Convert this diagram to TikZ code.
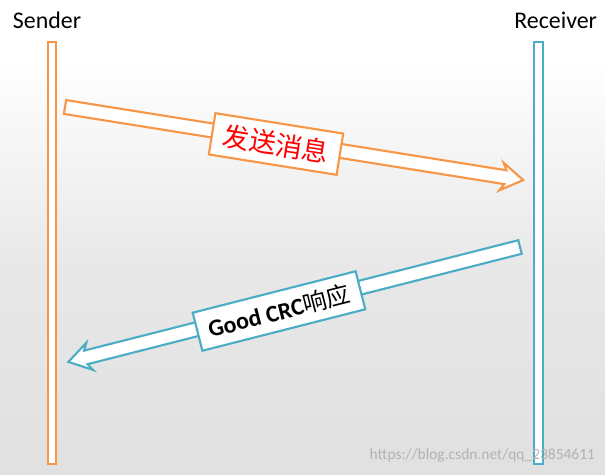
\documentclass[tikz,border=0pt]{standalone}
\usepackage{fontspec}
\setmainfont{Carlito}
\newfontfamily\cjk{Noto Sans CJK SC}
\definecolor{sendorange}{HTML}{F79646}
\definecolor{recvteal}{HTML}{4BACC6}
\tikzset{
  lifeline/.style={draw=#1, fill=white, line width=1.2pt},
  fatarrow/.style={draw=#1, fill=white, line width=1.5pt, line join=miter},
  msglabel/.style={draw=#1, fill=white, line width=1.5pt, inner xsep=8pt, inner ysep=6pt}
}
\begin{document}
\begin{tikzpicture}[x=0.025cm, y=-0.025cm]
  % Background
  \fill[white] (0,0) rectangle (605,474);
  \shade[top color=white, bottom color=black!12, middle color=black!9] (0,60) rectangle (605,474);
  \useasboundingbox (0,0) rectangle (605,474);

  % Lifelines
  \node[anchor=west, font=\fontsize{17}{17}\selectfont] (sender) at (8,20) {Sender};
  \node[anchor=east, font=\fontsize{17}{17}\selectfont] (receiver) at (602,20) {Receiver};
  \draw[lifeline=sendorange] (48,42) rectangle (56,464);
  \draw[lifeline=recvteal] (534,42) rectangle (543,464);

  % Message arrow (sender to receiver)
  \begin{scope}[shift={(65,107)}, rotate=-9.06]
    \draw[fatarrow=sendorange] (0,-7) -- (446,-7) -- (442,-14) -- (464,0)
      -- (442,14) -- (446,7) -- (0,7) -- cycle;
  \end{scope}
  \node[msglabel=sendorange, rotate=-9.06, text=red, font=\cjk\fontsize{19}{19}\selectfont]
    (msg) at (276,144) {发送消息};

  % Reply arrow (receiver to sender)
  \begin{scope}[shift={(520,247)}, rotate=194.27]
    \draw[fatarrow=recvteal] (0,-7) -- (448,-7) -- (444,-14) -- (466,0)
      -- (444,14) -- (448,7) -- (0,7) -- cycle;
  \end{scope}
  \node[msglabel=recvteal, rotate=14.27, font=\bfseries\fontsize{17}{17}\selectfont]
    (reply) at (279,311) {Good CRC{\cjk\mdseries 响应}};

  % Watermark
  \node[anchor=east, text=black!30, font=\fontsize{11}{11}\selectfont] (mark) at (600,455)
    {https://blog.csdn.net/qq\_23854611};
\end{tikzpicture}
\end{document}
